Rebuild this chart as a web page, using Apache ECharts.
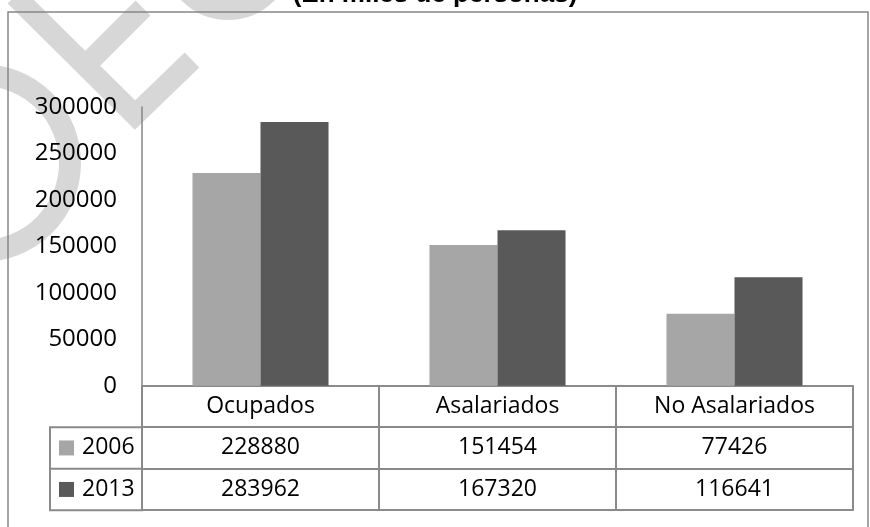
<!DOCTYPE html>
<html>
<head>
<meta charset="utf-8">
<script src="https://cdn.jsdelivr.net/npm/echarts@6/dist/echarts.min.js"></script>
<style>
html,body{margin:0;padding:0;background:#fff;}
#chart{width:870px;height:527px;}
</style>
</head>
<body>
<div id="chart"></div>
<script>
// ---- data ----
const categories = ['Ocupados', 'Asalariados', 'No Asalariados'];
const seriesNames = ['2006', '2013'];
const values2006 = [228880, 151454, 77426];
const values2013 = [283962, 167320, 116641];
const yTickMin = 0;
const yTickMax = 300000;
const yTickStep = 50000;
const titleText = '(En miles de personas)';

// ---- layout ----
const W = 870, H = 527;
const gridLeft = 142, gridRight = 17, gridTop = 107, axisY = 385.7;
const rowH = 41.5;
const legendColLeft = 50;
const font = "'Open Sans', sans-serif";
const fs = 23;
const lineCol = '#8a8a8a';
const wmCol = '#d7d7d7';
const colors = ['#a6a6a6', '#595959'];

const chart = echarts.init(document.getElementById('chart'), null, {renderer: 'canvas'});

function tableAxis(offset, labels, showTicks, showLabels) {
  return {
    type: 'category',
    gridIndex: 0,
    position: 'bottom',
    offset: offset,
    data: categories,
    boundaryGap: true,
    axisLine: {show: true, lineStyle: {color: lineCol, width: 2}},
    axisTick: {show: showTicks, inside: false, length: rowH, interval: 0, lineStyle: {color: lineCol, width: 2}},
    axisLabel: {
      show: showLabels, interval: 0, margin: rowH / 2, verticalAlign: 'middle',
      color: '#000', fontFamily: font, fontSize: fs,
      formatter: function (v, i) { return labels ? String(labels[i]) : v; }
    },
    splitLine: {show: false}
  };
}

const option = {
  backgroundColor: '#fff',
  animation: false,
  color: colors,
  title: {
    text: titleText,
    left: 'center',
    top: -18,
    padding: 0,
    textStyle: {fontFamily: "'Liberation Sans', Arial, sans-serif", fontWeight: 'bold', fontSize: 26, color: '#000', lineHeight: 26}
  },
  legend: {
    data: seriesNames,
    orient: 'vertical',
    left: 59,
    top: axisY + rowH,
    padding: 0,
    itemGap: 0,
    itemWidth: 15,
    itemHeight: 15,
    icon: 'rect',
    selectedMode: false,
    textStyle: {fontFamily: font, fontSize: fs, color: '#000', lineHeight: rowH, padding: [0, 0, 0, 3]}
  },
  grid: {left: gridLeft, right: gridRight, top: gridTop, bottom: H - axisY, containLabel: false},
  xAxis: [
    tableAxis(0, null, true, true),
    tableAxis(rowH, values2006, true, true),
    tableAxis(rowH * 2, values2013, true, true),
    tableAxis(rowH * 3, null, false, false)
  ],
  yAxis: {
    type: 'value',
    min: yTickMin, max: yTickMax, interval: yTickStep,
    axisLine: {show: true, lineStyle: {color: '#868686', width: 1.5}},
    axisTick: {show: false},
    splitLine: {show: false},
    axisLabel: {color: '#000', fontFamily: font, fontSize: 24, margin: 25, formatter: function (v) { return String(v); }}
  },
  series: [
    {name: seriesNames[0], type: 'bar', data: values2006, xAxisIndex: 0, barGap: '0%', barCategoryGap: '42.6%', itemStyle: {color: colors[0]}},
    {name: seriesNames[1], type: 'bar', data: values2013, xAxisIndex: 0, barGap: '0%', barCategoryGap: '42.6%', itemStyle: {color: colors[1]}}
  ],
  graphic: [
    // watermark shapes (decorative, behind chart)
    {type: 'polyline', z: -10, silent: true, shape: {points: [[15, -4], [135, 115], [192, 60]]}, style: {stroke: wmCol, lineWidth: 21, fill: null, lineJoin: 'miter'}},
    {type: 'line', z: -10, silent: true, shape: {x1: 143, y1: 8, x2: 84, y2: 67}, style: {stroke: wmCol, lineWidth: 21}},
    {type: 'arc', z: -10, silent: true, shape: {cx: -18, cy: 163, r: 88, startAngle: -Math.PI / 2, endAngle: Math.PI / 2}, style: {stroke: wmCol, lineWidth: 22, fill: null}},
    {type: 'arc', z: -10, silent: true, shape: {cx: 228, cy: -45, r: 55, startAngle: 0, endAngle: Math.PI}, style: {stroke: wmCol, lineWidth: 20, fill: null}},
    // outer chart frame
    {type: 'rect', z: -5, silent: true, shape: {x: 8, y: 12, width: W - 10, height: H + 20}, style: {stroke: '#868686', lineWidth: 1.5, fill: null}},
    // legend column of the data table
    {type: 'rect', z: 5, silent: true, shape: {x: legendColLeft, y: axisY + rowH, width: gridLeft - legendColLeft, height: rowH * 2}, style: {stroke: lineCol, lineWidth: 2, fill: null}},
    {type: 'line', z: 5, silent: true, shape: {x1: legendColLeft, y1: axisY + rowH * 2, x2: gridLeft, y2: axisY + rowH * 2}, style: {stroke: lineCol, lineWidth: 2}}
  ]
};
chart.setOption(option);
</script>
</body>
</html>
